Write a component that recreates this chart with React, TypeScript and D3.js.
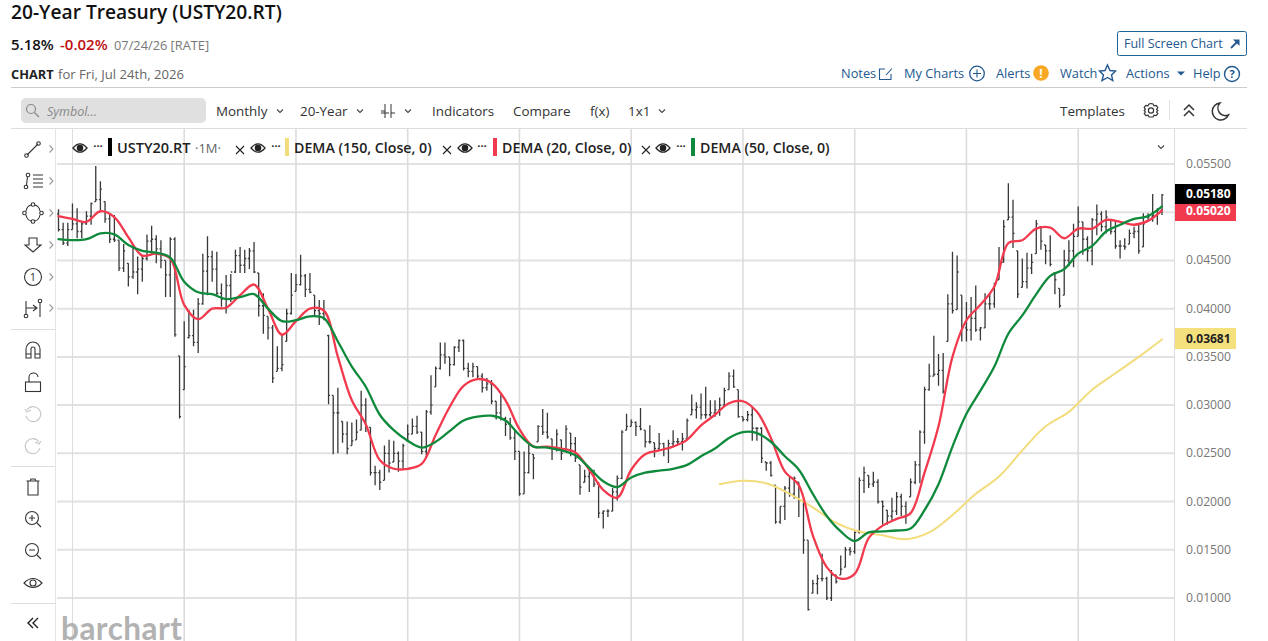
import * as d3 from 'd3';

// monthly bars, rate in percent, Oct 2006 -> Jul 2026
const barHigh = [5.03,4.89,4.89,5.09,5.04,4.90,5.01,5.10,5.48,5.32,5.11,4.97,4.97,4.71,4.67,4.47,4.65,4.54,4.55,4.77,4.86,4.76,4.71,4.50,4.74,4.74,3.51,3.87,3.99,3.99,4.11,4.57,4.75,4.60,4.59,4.26,4.35,4.36,4.61,4.64,4.61,4.63,4.69,4.37,4.16,3.92,3.83,3.61,3.73,4.00,4.37,4.36,4.56,4.36,4.37,4.14,4.09,4.09,3.73,3.10,3.18,2.83,2.83,2.82,2.85,3.15,3.07,2.77,2.37,2.33,2.58,2.64,2.63,2.52,2.60,2.80,2.86,2.89,2.72,2.95,3.31,3.40,3.65,3.65,3.50,3.61,3.68,3.68,3.44,3.44,3.40,3.33,3.28,3.26,3.04,3.11,2.88,2.87,2.74,2.52,2.52,2.59,2.49,2.79,2.96,2.92,2.65,2.75,2.64,2.79,2.71,2.67,2.38,2.33,2.35,2.33,2.20,1.91,1.92,2.14,2.27,2.74,2.91,2.85,2.83,2.97,2.74,2.79,2.61,2.71,2.61,2.64,2.74,2.66,2.71,2.86,3.11,3.03,3.12,3.19,3.05,3.05,3.08,3.18,3.34,3.37,3.16,2.88,2.94,2.98,2.77,2.77,2.41,2.42,2.17,1.95,2.16,2.26,2.26,2.20,2.01,1.60,1.19,1.24,1.46,1.22,1.29,1.24,1.44,1.53,1.53,1.69,2.25,2.36,2.27,2.31,2.23,2.01,1.91,2.04,2.10,2.08,2.00,2.24,2.42,2.74,3.19,3.43,3.72,3.53,3.54,4.15,4.59,4.55,4.14,4.07,4.12,4.24,3.81,4.16,4.16,4.27,4.64,4.92,5.30,5.13,4.60,4.52,4.58,4.57,4.92,4.85,4.66,4.76,4.37,4.21,4.61,4.71,4.88,5.06,4.90,4.75,4.94,5.08,5.01,5.02,4.92,4.92,4.71,4.73,4.82,4.85,4.87,4.99,4.99,5.19,5.04,5.19];
const barLow = [4.80,4.66,4.65,4.82,4.73,4.73,4.87,4.87,5.11,5.02,4.89,4.68,4.69,4.39,4.38,4.23,4.31,4.15,4.28,4.50,4.57,4.47,4.42,4.12,4.12,3.71,2.86,3.16,3.69,3.61,3.54,4.04,4.14,4.28,4.14,4.02,3.95,4.07,4.37,4.37,4.37,4.41,4.37,3.92,3.74,3.68,3.23,3.35,3.35,3.66,3.94,4.18,4.24,4.12,4.16,3.92,3.83,3.88,3.01,2.49,2.50,2.61,2.49,2.58,2.64,2.74,2.72,2.27,2.17,2.12,2.22,2.30,2.41,2.31,2.34,2.63,2.70,2.70,2.49,2.45,2.90,3.19,3.37,3.43,3.30,3.41,3.55,3.36,3.29,3.29,3.26,3.13,3.15,3.01,2.85,2.84,2.68,2.64,2.43,2.06,2.08,2.29,2.23,2.62,2.69,2.65,2.43,2.52,2.43,2.52,2.47,2.41,2.07,2.20,2.10,2.15,1.83,1.72,1.84,1.90,2.01,2.23,2.74,2.78,2.68,2.74,2.56,2.60,2.46,2.53,2.47,2.40,2.57,2.59,2.53,2.64,2.90,2.86,2.85,2.86,2.88,2.88,2.89,2.98,3.16,3.18,2.87,2.83,2.83,2.63,2.63,2.40,2.32,2.26,1.77,1.77,1.81,2.05,2.03,1.84,1.46,0.87,1.05,1.04,1.17,0.98,0.97,1.15,1.24,1.32,1.44,1.46,1.67,2.09,2.14,2.15,1.98,1.76,1.76,1.81,1.86,1.85,1.77,2.05,2.18,2.19,2.60,3.15,3.30,3.20,3.12,3.66,3.95,3.99,3.66,3.66,3.67,3.76,3.67,3.80,3.99,4.01,4.30,4.48,4.92,4.63,4.11,4.22,4.21,4.36,4.57,4.61,4.46,4.44,4.15,4.01,4.14,4.44,4.43,4.75,4.56,4.49,4.45,4.76,4.80,4.78,4.77,4.62,4.52,4.61,4.67,4.73,4.57,4.64,4.91,4.90,4.87,4.97];
const barOpen = [4.98,4.82,4.68,4.82,4.88,4.80,4.88,4.96,5.11,5.13,5.11,4.93,4.72,4.71,4.42,4.47,4.33,4.38,4.41,4.52,4.70,4.72,4.62,4.50,4.35,4.72,3.51,3.16,3.70,3.72,3.65,4.05,4.39,4.54,4.41,4.16,4.10,4.24,4.38,4.55,4.45,4.52,4.60,4.37,4.03,3.92,3.80,3.35,3.38,3.66,3.95,4.18,4.25,4.34,4.20,4.14,3.98,3.95,3.72,3.10,2.92,2.83,2.70,2.58,2.64,2.74,3.00,2.77,2.30,2.30,2.22,2.50,2.41,2.50,2.42,2.63,2.70,2.78,2.72,2.52,2.93,3.19,3.38,3.52,3.50,3.42,3.60,3.67,3.38,3.35,3.40,3.30,3.18,3.22,3.04,2.92,2.86,2.80,2.66,2.52,2.08,2.30,2.49,2.62,2.78,2.72,2.65,2.55,2.64,2.52,2.71,2.60,2.38,2.20,2.26,2.30,2.18,1.88,1.90,1.90,2.10,2.24,2.74,2.78,2.82,2.78,2.74,2.62,2.61,2.55,2.60,2.55,2.60,2.62,2.62,2.65,2.90,2.95,2.98,2.90,2.90,2.92,2.95,3.00,3.16,3.30,3.16,2.88,2.85,2.90,2.76,2.76,2.41,2.40,2.17,1.79,1.95,2.14,2.08,2.20,2.01,1.60,1.05,1.15,1.20,1.20,1.00,1.24,1.24,1.32,1.50,1.48,1.68,2.22,2.27,2.18,2.20,2.00,1.91,1.85,1.90,2.05,1.95,2.05,2.20,2.38,2.72,3.16,3.30,3.32,3.36,3.66,4.05,3.99,4.14,3.80,3.78,3.90,3.78,3.80,4.05,4.05,4.30,4.48,4.92,4.95,4.60,4.22,4.28,4.42,4.57,4.85,4.66,4.60,4.37,4.21,4.14,4.50,4.60,4.75,4.90,4.72,4.60,4.92,4.98,4.85,4.92,4.80,4.65,4.65,4.67,4.78,4.80,4.64,4.91,4.95,4.97,5.02];
const barClose = [4.82,4.68,4.82,4.88,4.80,4.88,4.96,5.09,5.13,5.24,4.93,4.72,4.71,4.42,4.60,4.33,4.38,4.41,4.52,4.70,4.72,4.62,4.50,4.35,4.72,3.73,2.88,3.40,3.72,3.65,4.05,4.39,4.54,4.41,4.16,4.10,4.24,4.38,4.55,4.45,4.52,4.60,4.38,4.03,3.93,3.80,3.28,3.38,3.42,3.95,4.14,4.25,4.34,4.20,4.17,3.98,3.95,3.90,3.10,2.92,2.92,2.70,2.55,2.63,2.72,3.00,2.78,2.30,2.30,2.20,2.50,2.40,2.50,2.42,2.58,2.70,2.78,2.72,2.52,2.93,3.00,3.38,3.52,3.50,3.42,3.60,3.67,3.38,3.35,3.40,3.30,3.18,3.22,3.04,2.92,2.86,2.80,2.66,2.52,2.08,2.30,2.50,2.45,2.78,2.72,2.67,2.55,2.70,2.50,2.75,2.60,2.45,2.15,2.26,2.30,2.18,1.88,1.90,1.90,2.10,2.24,2.72,2.78,2.82,2.78,2.75,2.62,2.62,2.55,2.60,2.55,2.60,2.62,2.62,2.65,2.84,2.95,2.98,2.90,2.90,2.92,2.95,3.00,3.15,3.30,3.19,2.88,2.85,2.90,2.76,2.76,2.45,2.40,2.27,1.79,1.95,2.14,2.08,2.24,2.02,1.60,0.88,1.15,1.20,1.20,1.00,1.24,1.17,1.30,1.50,1.48,1.68,2.22,2.30,2.18,2.20,2.00,1.95,1.85,1.90,2.05,1.95,1.85,2.20,2.38,2.72,3.16,3.30,3.32,3.36,3.14,4.05,3.98,4.38,3.80,3.78,3.90,3.78,3.80,4.05,4.05,4.25,4.42,4.85,4.95,4.78,4.15,4.28,4.42,4.48,4.88,4.70,4.60,4.46,4.30,4.03,4.50,4.60,4.75,4.90,4.72,4.60,4.92,4.98,4.85,4.95,4.80,4.65,4.65,4.64,4.78,4.80,4.60,4.88,4.95,4.97,5.02,5.18];

// DEMA readings, one every 3 bars from the first bar
const dema20 = [4.96,4.93,4.90,5.01,4.95,4.74,4.55,4.57,4.52,4.04,3.89,4.00,4.01,4.14,4.25,4.00,3.73,3.87,4.00,3.98,3.50,3.05,2.80,2.43,2.34,2.34,2.39,2.69,2.98,3.20,3.27,3.23,3.05,2.75,2.57,2.57,2.55,2.51,2.33,2.12,2.04,2.33,2.49,2.53,2.57,2.64,2.79,2.90,3.02,3.04,2.93,2.66,2.31,2.17,1.65,1.32,1.20,1.25,1.62,1.75,1.82,1.88,2.30,2.78,3.50,3.88,4.04,4.23,4.68,4.71,4.83,4.84,4.73,4.83,4.83,4.92,4.90,4.87,4.91,5.02];
const dema50 = [4.72,4.71,4.72,4.78,4.77,4.66,4.60,4.58,4.53,4.28,4.17,4.15,4.10,4.12,4.15,4.00,3.87,3.88,3.92,3.90,3.66,3.40,3.19,2.90,2.74,2.63,2.56,2.62,2.73,2.84,2.88,2.89,2.84,2.69,2.57,2.56,2.53,2.48,2.35,2.21,2.15,2.25,2.30,2.32,2.34,2.38,2.47,2.55,2.66,2.72,2.71,2.62,2.47,2.33,2.08,1.85,1.69,1.59,1.68,1.69,1.70,1.72,1.91,2.18,2.57,2.91,3.15,3.40,3.74,3.93,4.15,4.34,4.41,4.57,4.65,4.80,4.87,4.93,4.96,5.06];
// DEMA 150 only starts at bar 142, one reading every 5 bars
const dema150 = [2.18,2.215,2.19,2.08,1.94,1.78,1.69,1.65,1.61,1.68,1.86,2.08,2.26,2.53,2.78,2.93,3.16,3.33,3.50,3.681];

const rateTicks = [5.5,5.0,4.5,4.0,3.5,3.0,2.5,2.0,1.5,1.0];
const firstMonth = new Date(Date.UTC(2006, 9, 1));
const months = barHigh.map((_, i) => d3.utcMonth.offset(firstMonth, i));
const gridMonths = months.map((m, i) => ({ m, i })).filter(({ m }) => m.getUTCMonth() === 0 && m.getUTCFullYear() % 2 === 1);

const legendItems = [
  { eye: 80, dots: 98, bar: 108, color: '#000', text: 'USTY20.RT', close: 240 },
  { eye: 258, dots: 276, bar: 285, color: '#f2dc7c', text: 'DEMA (150, Close, 0)', close: 447 },
  { eye: 465, dots: 482, bar: 493, color: '#f23a4f', text: 'DEMA (20, Close, 0)', close: 646 },
  { eye: 663, dots: 681, bar: 691, color: '#0f8a3c', text: 'DEMA (50, Close, 0)', close: 0 },
];
const menuItems = [
  { x: 216, text: 'Monthly', chev: 280 },
  { x: 300, text: '20-Year', chev: 360 },
  { x: 432, text: 'Indicators', chev: 0 },
  { x: 513, text: 'Compare', chev: 0 },
  { x: 590, text: 'f(x)', chev: 0 },
  { x: 628, text: '1x1', chev: 662 },
  { x: 1060, text: 'Templates', chev: 0 },
];
const linkItems = [
  { x: 841, text: 'Notes' },
  { x: 904, text: 'My Charts' },
  { x: 996, text: 'Alerts' },
  { x: 1060, text: 'Watch' },
  { x: 1126, text: 'Actions' },
  { x: 1193, text: 'Help' },
];
const toolChevrons = [149, 181, 213, 245, 277, 308];

const FONT = '"Open Sans", sans-serif';
const LINK = '#22598f';
const ICON = '#333';

const x = d3.scaleLinear().domain([0, barHigh.length - 1]).range([58.5, 1162]);
const y = d3.scaleLinear().domain([1.0, 5.5]).range([598, 164]);
const fmt = d3.format('.5f');

const line = d3.line<number>().y((d) => y(d)).curve(d3.curveCatmullRom.alpha(0.5));
const linePath = (vals: number[], start: number, step: number) =>
  line.x((_, i) => x(start + i * step))(vals) as string;

function Eye({ cx, cy, r = 8 }: { cx: number; cy: number; r?: number }) {
  return (
    <g fill="none" stroke="#222" strokeWidth={1.3}>
      <path d={`M${cx - r} ${cy}Q${cx} ${cy - r * 1.2} ${cx + r} ${cy}Q${cx} ${cy + r * 1.2} ${cx - r} ${cy}Z`} />
      <circle cx={cx} cy={cy} r={r * 0.38} fill="#222" />
    </g>
  );
}

function Chevron({ cx, cy, s = 3 }: { cx: number; cy: number; s?: number }) {
  return <path d={`M${cx - s} ${cy - s / 2}L${cx} ${cy + s / 2}L${cx + s} ${cy - s / 2}`} fill="none" stroke="#444" strokeWidth={1.1} />;
}

function ToolIcons() {
  return (
    <g fill="none" stroke={ICON} strokeWidth={1.1}>
      {/* line tool */}
      <path d="M27 155L38 144" /><circle cx={26.5} cy={155.5} r={1.8} /><circle cx={38.5} cy={143.5} r={1.8} />
      {/* fib */}
      <circle cx={28} cy={175} r={1.8} /><circle cx={26} cy={187} r={1.8} /><path d="M27.5 177L26.5 185M33 175H43M33 179H43M33 183H43M33 187H43" />
      {/* shapes */}
      <circle cx={33} cy={204.5} r={1.8} /><circle cx={33} cy={221.5} r={1.8} /><circle cx={24.5} cy={213} r={1.8} /><circle cx={41.5} cy={213} r={1.8} />
      <path d="M26 211Q27 206 31 205M35 205Q39 206 40 211M40 215Q39 220 35 221M31 221Q27 220 26 215" />
      {/* arrow */}
      <path d="M29 238H37V245H41L33 252L25 245H29Z" />
      {/* counter */}
      <circle cx={33} cy={277} r={8.5} /><text x={33} y={281} textAnchor="middle" fontSize={11} fill={ICON} stroke="none" fontFamily={FONT}>1</text>
      {/* measure */}
      <path d="M26 301V315M26 308H36M33 305L37 308L33 311M40 303V317" /><circle cx={26} cy={316} r={1.8} /><circle cx={40} cy={301} r={1.8} />
      {/* magnet */}
      <path d="M26 358V349A7 7 0 0 1 40 349V358H35V349A2 2 0 0 0 31 349V358ZM26 354H31M35 354H40" />
      {/* lock */}
      <rect x={25.5} y={382} width={15} height={9.5} /><path d="M29 382V378A4.5 4.5 0 0 1 38 377" />
      {/* undo, redo */}
      <g stroke="#c8c8c8">
        <path d="M27 410A7.5 7.5 0 1 1 26 416M25 409L27 412L31 410" />
        <path d="M39 442A7.5 7.5 0 1 0 40 448M41 441L39 444L35 442" />
      </g>
      {/* trash */}
      <path d="M26.5 481H39.5M28 481V495H38V481M30 481L31 479H35L36 481" />
      {/* zoom */}
      <circle cx={32} cy={518} r={6.5} /><path d="M37 523L41 527M29 518H35M32 515V521" />
      <circle cx={32} cy={550} r={6.5} /><path d="M37 555L41 559M29 550H35" />
      {/* eye */}
      <path d="M24 583Q33 574 42 583Q33 592 24 583Z" /><circle cx={33} cy={583} r={3} />
      {/* collapse */}
      <path d="M33 618L28 623L33 628M38 618L33 623L38 628" stroke="#222" strokeWidth={1.4} />
      {/* flyout chevrons */}
      {toolChevrons.map((cy) => <path key={cy} d={`M49.5 ${cy - 3.5}L53 ${cy}L49.5 ${cy + 3.5}`} stroke="#999" />)}
    </g>
  );
}

export default function App() {
  return (
    <>
      <style>{'body{margin:0}'}</style>
      <svg width={1268} height={641} style={{ display: 'block', fontFamily: FONT }}>
        <rect width={1268} height={641} fill="#fff" />

        {/* page header */}
        <text x={11} y={19} fontSize={19.2} fontWeight={600} fill="#111">20-Year Treasury (USTY20.RT)</text>
        <text x={11} y={50} fontSize={15} fontWeight={600} fill="#111">5.18%</text>
        <text x={60} y={50} fontSize={15} fontWeight={600} fill="#c00d12">-0.02%</text>
        <text x={114} y={49.5} fontSize={12.8} fill="#777">07/24/26 [RATE]</text>
        <text x={11} y={79} fontSize={12.8} fontWeight={700} fill="#222">CHART</text>
        <text x={58} y={79} fontSize={13.1} fill="#666">for Fri, Jul 24th, 2026</text>

        <rect x={1117.5} y={31.5} width={129} height={24} rx={2} fill="#fff" stroke="#1f6296" />
        <text x={1124} y={48} fontSize={12.5} fill={LINK}>Full Screen Chart</text>
        <path d="M1231 48L1238 41" fill="none" stroke={LINK} strokeWidth={1.8} />
        <path d="M1233 39.5H1239.5V46Z" fill={LINK} />

        {linkItems.map((l) => (
          <text key={l.text} x={l.x} y={78} fontSize={12.8} fill={LINK}>{l.text}</text>
        ))}
        <g fill="none" stroke={LINK} strokeWidth={1.1}>
          <path d="M885 69H879.5V79.5H891V74M886 75L892 68.5" />
          <circle cx={977} cy={73.5} r={7.3} strokeWidth={1.3} /><path d="M973 73.5H981M977 69.5V77.5" />
          <path d="M1107.5 65L1110 70.5L1115.5 71L1111.5 75L1112.8 80.5L1107.5 77.5L1102 80.5L1103.5 75L1099.5 71L1105 70.5Z" strokeWidth={1.4} />
          <circle cx={1232} cy={74} r={7.5} strokeWidth={1.4} />
        </g>
        <circle cx={1041} cy={73} r={7.8} fill="#f9a825" />
        <text x={1041} y={77.5} textAnchor="middle" fontSize={12} fontWeight={700} fill="#fff">!</text>
        <path d="M1177 71.5H1185L1181 75.5Z" fill={LINK} />
        <text x={1232} y={78} textAnchor="middle" fontSize={11} fontWeight={700} fill={LINK}>?</text>
        <line x1={11} x2={1247} y1={87.5} y2={87.5} stroke="#ccc" />

        {/* chart toolbar */}
        <rect x={21} y={98} width={185} height={25} rx={5} fill="#e0e0e0" />
        <circle cx={31} cy={109} r={4.5} fill="none" stroke="#888" strokeWidth={1.2} />
        <line x1={34.5} y1={112.5} x2={39} y2={117} stroke="#888" strokeWidth={1.2} />
        <text x={47} y={116} fontSize={12.5} fontStyle="italic" fill="#888">Symbol...</text>
        {menuItems.map((m) => (
          <g key={m.text}>
            <text x={m.x} y={116} fontSize={13.4} fill="#333">{m.text}</text>
            {m.chev > 0 && <Chevron cx={m.chev} cy={111} />}
          </g>
        ))}
        <path d="M385 104V118M385 111H381M391 104V118M391 113H395M381 113H389" fill="none" stroke="#333" strokeWidth={1} />
        <Chevron cx={408} cy={111} />
        <g fill="none" stroke="#333" strokeWidth={1.2}>
          <circle cx={1151} cy={110.5} r={2.6} />
          <path d="M1151 103.5L1153 104L1154 105.8L1156.2 105.4L1157.8 107.6L1156.6 109.4L1157.8 110.5L1156.6 112L1157.8 113.6L1156.2 115.6L1154 115.2L1153 117L1149 117L1148 115.2L1145.8 115.6L1144.2 113.6L1145.4 112L1144.2 110.5L1145.4 109.4L1144.2 107.6L1145.8 105.4L1148 105.8L1149 104Z" />
          <path d="M1184 110L1189 105L1194 110M1184 116L1189 111L1194 116" strokeWidth={1.5} />
          <path d="M1220 103A8.5 8.5 0 1 0 1228.5 115A7.5 7.5 0 0 1 1220 103Z" strokeWidth={1.5} />
        </g>
        <line x1={1169.5} x2={1169.5} y1={100} y2={120} stroke="#e2e2e2" />
        <line x1={11} x2={1247} y1={128.5} y2={128.5} stroke="#ddd" />

        {/* left tools */}
        <ToolIcons />
        {[329, 466, 603].map((s) => <line key={s} x1={11} x2={55} y1={s + 0.5} y2={s + 0.5} stroke="#ddd" />)}
        <line x1={55.5} x2={55.5} y1={129} y2={641} stroke="#e4e4e4" />

        {/* gridlines */}
        {rateTicks.map((t) => (
          <line key={t} x1={57} x2={1175} y1={y(t)} y2={y(t)} stroke="#e2e2e2" strokeWidth={2} />
        ))}
        {gridMonths.map(({ i }) => (
          <line key={i} x1={x(i)} x2={x(i)} y1={129} y2={641} stroke="#dcdcdc" strokeWidth={i === 3 ? 1 : 1.6} />
        ))}
        <line x1={1174.5} x2={1174.5} y1={129} y2={641} stroke="#ddd" />

        <text x={61} y={640} fontSize={31.5} fontWeight={700} fill="#b2b2b2" fontFamily="Lato, sans-serif" letterSpacing={0.5}>barchart</text>

        {/* OHLC bars */}
        <g stroke="#383838" strokeWidth={1.3} fill="none">
          {barHigh.map((hi, i) => (
            <path key={i} d={`M${x(i)} ${y(hi)}V${y(barLow[i])}M${x(i) - 1.5} ${y(barOpen[i])}H${x(i)}M${x(i)} ${y(barClose[i])}H${x(i) + 1.5}`} />
          ))}
        </g>

        <g fill="none" strokeLinecap="round">
          <path d={linePath(dema150, 142, 5)} stroke="#f2dc7c" strokeWidth={2} />
          <path d={linePath(dema20, 0, 3)} stroke="#f23a4f" strokeWidth={2.3} />
          <path d={linePath(dema50, 0, 3)} stroke="#0f8a3c" strokeWidth={2.3} />
        </g>

        {/* legend */}
        {legendItems.map((l, i) => (
          <g key={l.text}>
            <Eye cx={l.eye} cy={148} r={7} />
            <text x={l.dots} y={150} textAnchor="middle" fontSize={11} fontWeight={700} fill="#222">···</text>
            <rect x={l.bar} y={138} width={4} height={18} fill={l.color} />
            <text x={l.bar + 9} y={153} fontSize={i === 0 ? 14.5 : 14.2} fontWeight={600} fill="#222">{l.text}</text>
            {i === 0 && <text x={195} y={153} fontSize={13} fill="#666">·1M·</text>}
            {l.close > 0 && <path d={`M${l.close - 4} ${146}L${l.close + 4} ${154}M${l.close + 4} ${146}L${l.close - 4} ${154}`} stroke="#222" strokeWidth={1.1} />}
          </g>
        ))}
        <Chevron cx={1161} cy={147} />

        {/* price axis */}
        {rateTicks.map((t) => (
          <text key={t} x={1186} y={y(t) + 4} fontSize={12.2} fill="#777">{fmt(t / 100)}</text>
        ))}
        <rect x={1175} y={204} width={61} height={17} fill="#f23a4f" />
        <text x={1186} y={215} fontSize={12} fontWeight={700} fill="#fff">{fmt(dema20[dema20.length - 1] / 100)}</text>
        <rect x={1175} y={184} width={61} height={20} fill="#000" />
        <text x={1186} y={198} fontSize={12} fontWeight={700} fill="#fff">{fmt(barClose[barClose.length - 1] / 100)}</text>
        <rect x={1175} y={328} width={61} height={21} fill="#f5e07e" />
        <text x={1186} y={343} fontSize={12} fontWeight={700} fill="#222">{fmt(dema150[dema150.length - 1] / 100)}</text>
      </svg>
    </>
  );
}
